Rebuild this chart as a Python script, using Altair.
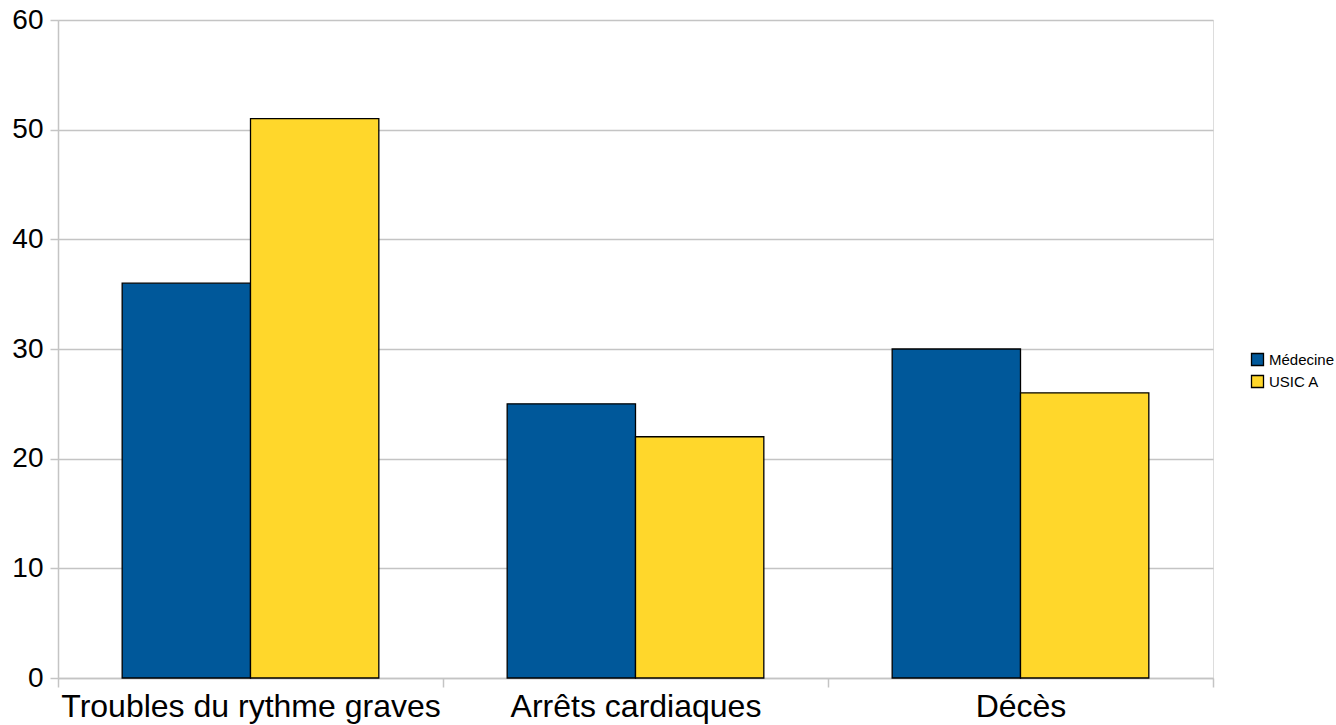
import altair as alt
import pandas as pd

categories = ["Troubles du rythme graves", "Arrêts cardiaques", "Décès"]
series = ["Médecine", "USIC A"]
medecine = [36, 25, 30]
usic_a = [51, 22, 26]
colors = ["#00589a", "#ffd72b"]

rows = []
for cat, m, u in zip(categories, medecine, usic_a):
    rows.append({"categorie": cat, "service": series[0], "valeur": m})
    rows.append({"categorie": cat, "service": series[1], "valeur": u})
df = pd.DataFrame(rows)

font = "Liberation Sans"
grid_gray = "#c4c4c4"

chart = alt.Chart(df).mark_bar(stroke="black", strokeWidth=1.3).encode(
    x=alt.X(
        "categorie:N",
        sort=categories,
        title=None,
        scale=alt.Scale(paddingInner=0, paddingOuter=0),
        axis=alt.Axis(
            labelAngle=0,
            labelFont=font,
            labelFontSize=32,
            labelColor="black",
            labelPadding=4,
            labelLimit=0,
            tickBand="extent",
            tickSize=9,
            tickColor=grid_gray,
            tickWidth=1.5,
            domainColor=grid_gray,
            domainWidth=1.5,
            grid=False,
        ),
    ),
    xOffset=alt.XOffset(
        "service:N",
        sort=series,
        scale=alt.Scale(paddingInner=0, paddingOuter=0.5),
    ),
    y=alt.Y(
        "valeur:Q",
        title=None,
        scale=alt.Scale(domain=[0, 60], nice=False),
        axis=alt.Axis(
            values=[0, 10, 20, 30, 40, 50, 60],
            labelFont=font,
            labelFontSize=28,
            labelColor="black",
            labelPadding=7,
            tickSize=8,
            tickColor=grid_gray,
            tickWidth=1.5,
            domainColor=grid_gray,
            domainWidth=1.5,
            gridColor=grid_gray,
            gridWidth=1.5,
        ),
    ),
    fill=alt.Fill(
        "service:N",
        sort=series,
        scale=alt.Scale(domain=series, range=colors),
        legend=alt.Legend(
            title=None,
            orient="none",
            legendX=1192,
            legendY=332,
            symbolType="square",
            symbolSize=144,
            symbolStrokeColor="black",
            symbolStrokeWidth=1.3,
            labelFont=font,
            labelFontSize=15,
            labelColor="black",
            rowPadding=3,
            labelOffset=4,
        ),
    ),
).properties(
    width=1155,
    height=658,
    autosize=alt.AutoSizeParams(type="none"),
    padding={"left": 58, "top": 20, "right": 123, "bottom": 47},
).configure_view(
    stroke=grid_gray,
    strokeWidth=1.5,
).configure(background="white")

chart.save("out.html", embed_options={"renderer": "svg", "actions": False})
